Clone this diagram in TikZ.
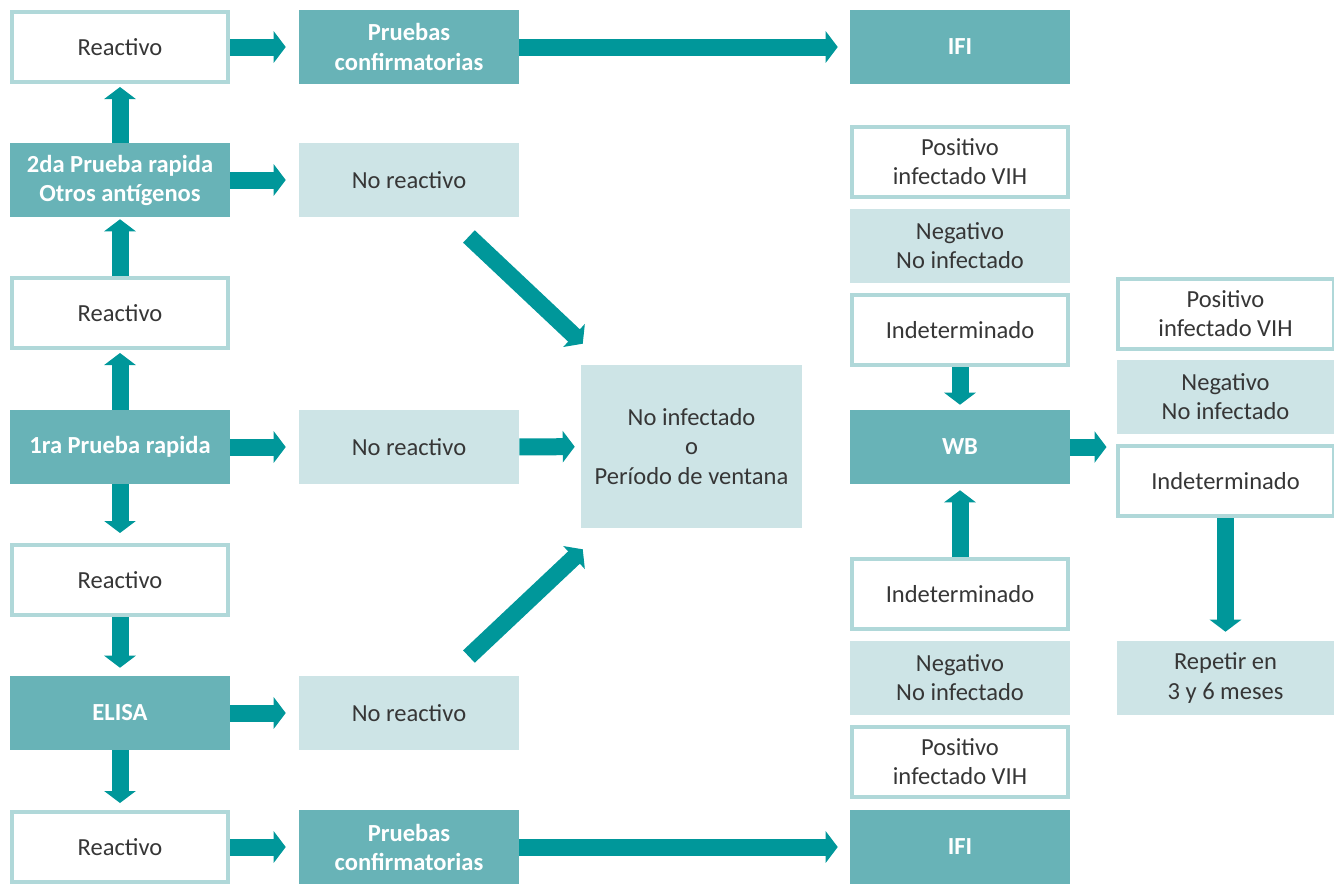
\documentclass[tikz,border=0pt]{standalone}
\usepackage{fontspec}
\setmainfont{Carlito}
\usepackage{tikz}
\usetikzlibrary{arrows.meta, calc}
\definecolor{tealDark}{HTML}{68B3B7}
\definecolor{tealSoft}{HTML}{CDE4E6}
\definecolor{tealLine}{HTML}{B0D8D9}
\definecolor{tealArrow}{HTML}{00979A}
\definecolor{textGray}{HTML}{363636}

\begin{document}
\begin{tikzpicture}[
  x=0.75pt, y=-0.75pt,
  every node/.style={font={\fontsize{18.4}{21.8}\selectfont}, align=center, inner sep=0pt},
  outbox/.style={rectangle, draw=tealLine, line width=3pt, fill=white, text=textGray,
                 minimum width=162pt, minimum height=52.5pt},
  keybox/.style={rectangle, fill=tealDark, text=white, font={\fontsize{18.4}{21.8}\selectfont\bfseries},
                 minimum width=165pt, minimum height=55.5pt},
  softbox/.style={rectangle, fill=tealSoft, text=textGray,
                  minimum width=165pt, minimum height=55.5pt},
  barrow/.style={-{Triangle[length=9pt, width=23.25pt]}, line width=12.75pt, tealArrow}
]
  \useasboundingbox (0,0) rectangle (1334,883);

  % Columna izquierda
  \node[outbox] (reac1) at (120,47)  {Reactivo};
  \node[keybox] (seg)   at (120,180) {2da Prueba rapida\\Otros antígenos};
  \node[outbox] (reac2) at (120,313) {Reactivo};
  \node[keybox] (pri)   at (120,447) {1ra Prueba rapida};
  \node[outbox] (reac3) at (120,580) {Reactivo};
  \node[keybox] (elisa) at (120,713) {ELISA};
  \node[outbox] (reac4) at (120,847) {Reactivo};

  % Segunda columna
  \node[keybox]  (conf1) at (409,47)  {Pruebas\\confirmatorias};
  \node[softbox] (nr1)   at (409,180) {No reactivo};
  \node[softbox] (nr2)   at (409,447) {No reactivo};
  \node[softbox] (nr3)   at (409,713) {No reactivo};
  \node[keybox]  (conf2) at (409,847) {Pruebas\\confirmatorias};

  % Centro
  \node[softbox, minimum width=165.75pt, minimum height=122.25pt] (ventana) at (691.5,446.5)
    {No infectado\\o\\Período de ventana};

  % Columna WB
  \node[keybox]  (ifi1) at (960,47)  {IFI};
  \node[outbox]  (pos1) at (960,162) {Positivo\\infectado VIH};
  \node[softbox] (neg1) at (960,246) {Negativo\\No infectado};
  \node[outbox]  (ind1) at (960,330) {Indeterminado};
  \node[keybox]  (wb)   at (960,447) {WB};
  \node[outbox]  (ind2) at (960,594) {Indeterminado};
  \node[softbox] (neg2) at (960,678) {Negativo\\No infectado};
  \node[outbox]  (pos2) at (960,762) {Positivo\\infectado VIH};
  \node[keybox]  (ifi2) at (960,847) {IFI};

  % Resultados WB
  \node[outbox]  (posR) at (1225.5,314) {Positivo\\infectado VIH};
  \node[softbox, minimum width=162.75pt] (negR) at (1225.5,397) {Negativo\\No infectado};
  \node[outbox]  (indR) at (1225.5,481) {Indeterminado};
  \node[softbox, minimum width=162.75pt] (rep) at (1225.5,678) {Repetir en\\3 y 6 meses};

  % Flechas verticales
  \draw[barrow, shorten >=2.25pt] (seg) -- (reac1);
  \draw[barrow, shorten >=1.5pt]  (reac2) -- (seg);
  \draw[barrow, shorten >=2.25pt] (pri) -- (reac2);
  \draw[barrow, shorten >=7.5pt]  (pri) -- (reac3);
  \draw[barrow, shorten >=6pt]    (reac3) -- (elisa);
  \draw[barrow, shorten >=5.25pt] (elisa) -- (reac4);
  \draw[barrow, shorten >=3.75pt] (ind1) -- (wb);
  \draw[barrow, shorten >=4.5pt]  (ind2) -- (wb);
  \draw[barrow, shorten >=6.75pt] (indR) -- (rep);

  % Flechas horizontales
  \draw[barrow, shorten >=9.75pt] (reac1) -- (conf1);
  \draw[barrow, shorten >=9pt]    (conf1) -- (ifi1);
  \draw[barrow, shorten >=9.75pt] (seg) -- (nr1);
  \draw[barrow, shorten >=9.75pt] (pri) -- (nr2);
  \draw[barrow, shorten >=4.5pt]  (nr2) -- (ventana);
  \draw[barrow, shorten >=9.75pt] (elisa) -- (nr3);
  \draw[barrow, shorten >=9.75pt] (reac4) -- (conf2);
  \draw[barrow, shorten >=9pt]    (conf2) -- (ifi2);
  \draw[barrow, shorten >=6.75pt] (wb) -- (wb -| posR.west);

  % Diagonales
  \draw[barrow, shorten <=21pt, shorten >=23pt] (nr1) -- (ventana);
  \draw[barrow, shorten <=21pt, shorten >=23pt] (nr3) -- (ventana);
\end{tikzpicture}
\end{document}
